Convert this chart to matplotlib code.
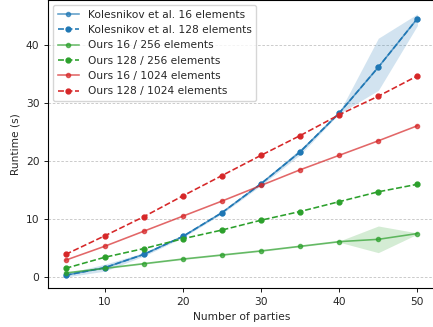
import matplotlib
matplotlib.use("Agg")
import matplotlib.pyplot as plt
import numpy as np

parties = [5, 10, 15, 20, 25, 30, 35, 40, 45, 50]

kol16 = [0.3, 1.6, 3.9, 7.0, 11.1, 16.1, 21.6, 28.3, 36.2, 44.6]
kol16_lo = [0.0, 1.0, 3.6, 6.8, 10.9, 15.8, 21.1, 28.2, 32.2, 43.4]
kol16_hi = [0.6, 2.2, 4.2, 7.2, 11.3, 16.4, 22.1, 28.4, 41.2, 45.4]
kol128 = [0.3, 1.6, 3.9, 7.0, 11.1, 16.1, 21.6, 28.3, 36.2, 44.6]

ours16_256 = [0.7, 1.5, 2.3, 3.1, 3.8, 4.5, 5.3, 6.1, 6.5, 7.5]
ours16_256_lo = [0.6, 1.4, 2.2, 3.0, 3.7, 4.4, 5.2, 6.0, 4.2, 7.4]
ours16_256_hi = [0.8, 1.6, 2.4, 3.2, 3.9, 4.6, 5.4, 6.2, 8.8, 7.6]
ours128_256 = [1.5, 3.4, 4.9, 6.6, 8.1, 9.8, 11.3, 13.0, 14.7, 16.0]
ours16_1024 = [2.9, 5.3, 7.9, 10.5, 13.1, 15.8, 18.5, 21.0, 23.5, 26.1]
ours128_1024 = [3.9, 7.1, 10.4, 14.0, 17.5, 21.0, 24.4, 28.0, 31.2, 34.7]

s = 0.77
plt.rcParams.update({
    "font.size": 10 * s,
    "axes.linewidth": 0.8 * s * 1.3,
    "xtick.major.width": 0.8 * s,
    "ytick.major.width": 0.8 * s,
    "xtick.major.size": 3.5 * s,
    "ytick.major.size": 3.5 * s,
    "legend.fontsize": 10 * s,
    "text.color": "#262626",
    "axes.labelcolor": "#262626",
    "xtick.labelcolor": "#262626",
    "ytick.labelcolor": "#262626",
})

fig = plt.figure(figsize=(4.33, 3.27), dpi=100)
ax = fig.add_axes([48/433, 39/327, 387/433, 288/327])

blue, green, red = "#1f77b4", "#2ca02c", "#d62728"

ax.fill_between(parties, kol16_lo, kol16_hi, color=blue, alpha=0.2, lw=0)
ax.fill_between(parties, ours16_256_lo, ours16_256_hi, color=green, alpha=0.2, lw=0)

lw = 1.5 * s
ax.plot(parties, kol16, "-", marker="o", ms=3, color=blue, alpha=0.7, lw=lw, label="Kolesnikov et al. 16 elements")
ax.plot(parties, kol128, "--", marker="o", ms=3.5, color=blue, lw=lw, label="Kolesnikov et al. 128 elements")
ax.plot(parties, ours16_256, "-", marker="o", ms=3, color=green, alpha=0.7, lw=lw, label="Ours 16 / 256 elements")
ax.plot(parties, ours128_256, "--", marker="o", ms=3.5, color=green, lw=lw, label="Ours 128 / 256 elements")
ax.plot(parties, ours16_1024, "-", marker="o", ms=3, color=red, alpha=0.7, lw=lw, label="Ours 16 / 1024 elements")
ax.plot(parties, ours128_1024, "--", marker="o", ms=3.5, color=red, lw=lw, label="Ours 128 / 1024 elements")

ax.set_xlim(2.75, 52.25)
ax.set_ylim(-1.9, 47.8)
ax.set_xticks([10, 20, 30, 40, 50])
ax.set_yticks([0, 10, 20, 30, 40])
ax.yaxis.grid(True, linestyle=(0, (3, 2)), color="#c4c4c4", lw=0.8 * s)
ax.set_axisbelow(True)
ax.spines["right"].set_visible(False)
ax.set_xlabel("Number of parties")
ax.set_ylabel("Runtime (s)")
ax.legend(loc="upper left")

fig.savefig("out.png", dpi=100)
